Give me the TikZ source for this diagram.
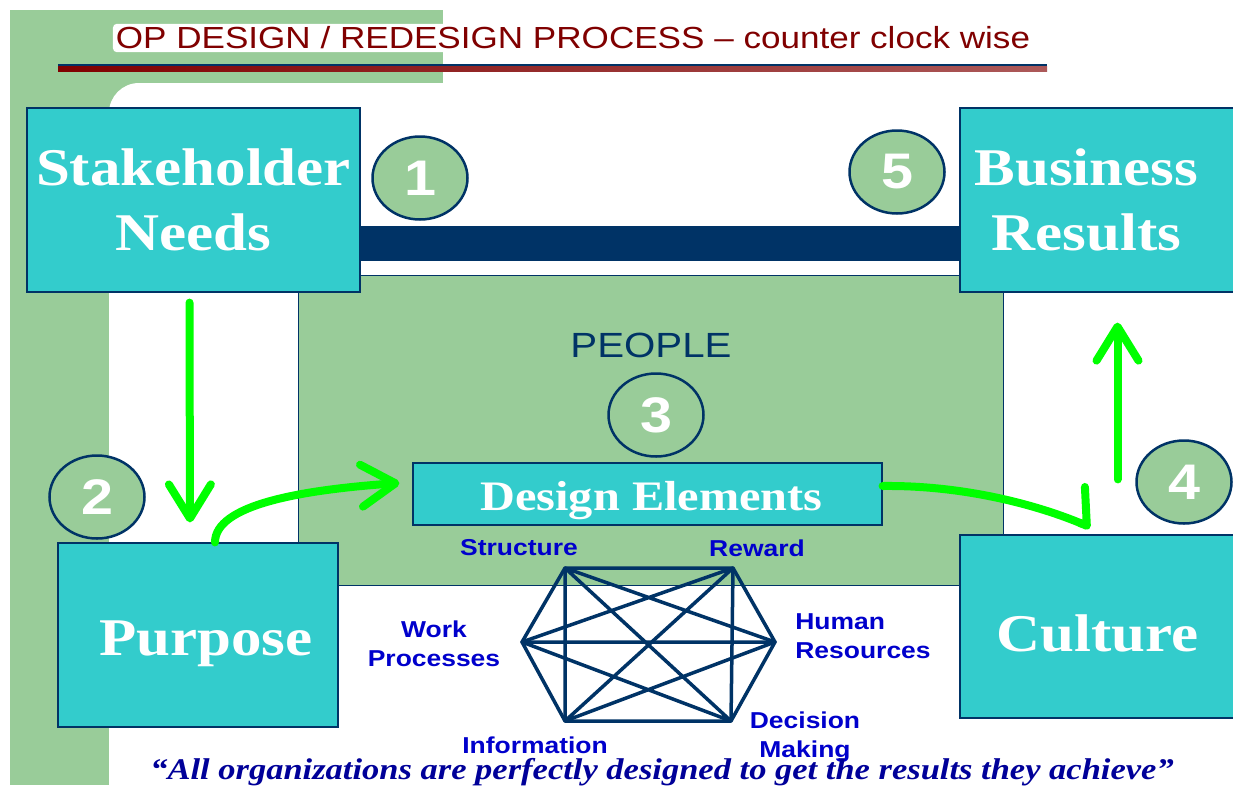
\documentclass[tikz,border=0pt]{standalone}
\usepackage{fontspec}
\usepackage{xcolor}
\usepackage{tikz}
\usetikzlibrary{arrows.meta,positioning,shapes.geometric}

\setmainfont{Liberation Serif}
\newfontfamily\wideserif{Liberation Serif}[FakeStretch=1.15]
\newfontfamily\widesans{Liberation Sans}[FakeStretch=1.15]

\definecolor{boxteal}{HTML}{33CCCC}
\definecolor{leaf}{HTML}{99CC99}
\definecolor{navy}{HTML}{003366}
\definecolor{arrowgreen}{HTML}{00FF00}
\definecolor{titlered}{HTML}{800000}
\definecolor{lblblue}{HTML}{0000CC}
\definecolor{quoteblue}{HTML}{000099}

\begin{document}
\begin{tikzpicture}[
  x=1pt, y=-1pt,
  box/.style={draw=navy, line width=1.2pt, fill=boxteal, text=white, align=center, inner sep=0pt,
    font=\wideserif\bfseries\fontsize{53}{65}\selectfont},
  num/.style={ellipse, draw=navy, line width=2.5pt, fill=leaf, text=white, inner sep=0pt,
    minimum width=95pt, minimum height=83pt, font=\widesans\bfseries\fontsize{50}{50}\selectfont},
  elem/.style={text=lblblue, align=center, font=\widesans\bfseries\fontsize{23}{29}\selectfont},
  net/.style={navy, line width=3.5pt, line join=round},
  flow/.style={arrowgreen, line width=8pt, line cap=round, -{Straight Barb[length=34pt, width=42pt, round]}}
]
\useasboundingbox (0,0) rectangle (1233,785);

% green frame with the rounded white page cut into it
\fill[leaf] (10,10) rectangle (443,785);
\fill[white, rounded corners=30pt] (109,840) -- (109,83) -- (1300,83) -- (1300,840) -- cycle;

% heading
\node[fill=white, rounded corners=4pt, inner sep=3pt, text=titlered,
  font=\widesans\fontsize{30.5}{30}\selectfont] (title) at (573,38) {OP DESIGN / REDESIGN PROCESS – counter clock wise};
\fill[navy] (58,64) rectangle (1047,66);
\shade[left color=titlered, right color=titlered!65!white] (58,66) rectangle (1047,71);

% people panel
\node[draw=navy, line width=1pt, fill=leaf, minimum width=705pt, minimum height=310pt, inner sep=0pt] (panel) at (650.5,430) {};
\node[text=navy, font=\widesans\fontsize{35}{35}\selectfont] (people) at (651,345) {PEOPLE};

% bar between needs and results
\fill[navy] (360,226) rectangle (960,261);

% design elements network
\coordinate (str) at (565,568);
\coordinate (rew) at (733,568);
\coordinate (hr) at (775,642);
\coordinate (dec) at (731,721);
\coordinate (inf) at (565,721);
\coordinate (wp) at (522,642);
\draw[net] (str) -- (rew) -- (hr) -- (dec) -- (inf) -- (wp) -- cycle;
\draw[net] (str) -- (hr) -- (inf) -- (rew) -- (wp) -- (dec) -- cycle;
\draw[net] (str) -- (inf) (rew) -- (dec) (wp) -- (hr);

\node[elem] (strlbl) at (519,548) {Structure};
\node[elem] (rewlbl) at (757,548) {Reward};
\node[elem] (wplbl) at (434,644) {Work\\Processes};
\node[elem, align=left] (hrlbl) at (863,636) {Human\\Resources};
\node[elem] (declbl) at (805,737) {Decision\\Making};
\node[elem] (inflbl) at (535,745) {Information};

% the five stages
\node[box, minimum width=333pt, minimum height=184pt] (needs) at (193.5,200) {Stakeholder\\Needs};
\node[box, minimum width=275pt, minimum height=184pt] (results) at (1097.5,200)
  {Business\hspace*{22pt}\\Results\hspace*{22pt}};
\node[box, minimum width=280pt, minimum height=184pt, text height=45pt, text depth=5pt] (purpose) at (198,635)
  {\hspace*{16pt}Purpose};
\node[box, minimum width=275pt, minimum height=183pt, text height=50pt, text depth=0pt] (culture) at (1097.5,626.5) {Culture};
\node[box, minimum width=469pt, minimum height=62pt, text height=36pt, text depth=4pt,
  font=\wideserif\bfseries\fontsize{42}{42}\selectfont] (design) at (647.5,494) {\hspace*{8pt}Design Elements};

% counter clock wise flow
\draw[flow, shorten <=10pt, shorten >=20pt] ([xshift=-4pt]needs.south) -- ([xshift=-8pt]purpose.north);
\draw[flow] ([xshift=17pt]purpose.north) .. controls (215,505) and (300,490) .. ([xshift=-13pt,yshift=11pt]design.west);
\draw[flow, -{Straight Barb[left, length=17pt, width=70pt, round]}]
  ([yshift=8pt]design.east) .. controls (970,485) and (1045,508) .. ([xshift=-7pt,yshift=7pt]culture.north);
\draw[flow, shorten <=55pt, shorten >=30pt] ([xshift=20pt]culture.north) -- ([xshift=20pt]results.south);

% stage numbers
\node[num] (n1) at (420,178) {1};
\node[num] (n2) at (97,497) {2};
\node[num] (n3) at (656,415) {3};
\node[num] (n4) at (1184,482) {4};
\node[num] (n5) at (897,172) {5};

\node[anchor=base, text=quoteblue, font=\wideserif\bfseries\itshape\fontsize{30}{30}\selectfont] (motto) at (662,779)
  {“All organizations are perfectly designed to get the results they achieve”};
\end{tikzpicture}
\end{document}
